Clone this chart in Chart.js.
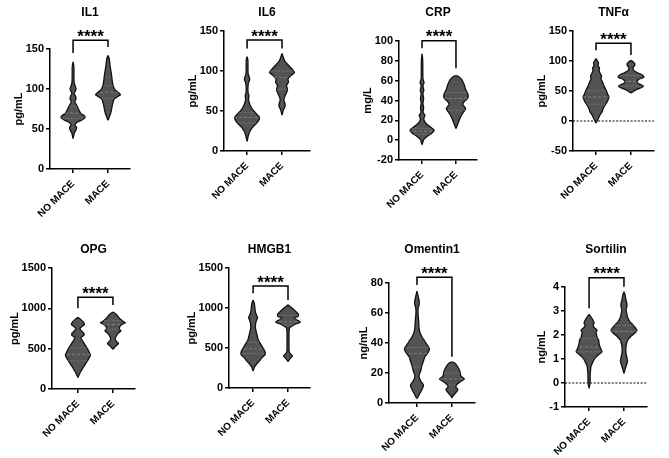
<!DOCTYPE html>
<html>
<head>
<meta charset="utf-8">
<script src="https://cdn.jsdelivr.net/npm/chart.js@4.4.0/dist/chart.umd.min.js"></script>
<style>
  html, body { margin: 0; padding: 0; background: #fff; }
  #wrap { position: relative; width: 669px; height: 458px; overflow: hidden; }
  #wrap canvas { position: absolute; }
</style>
</head>
<body>
<div id="wrap"></div>
<script>
// ---- data ----
const groups = ['NO MACE', 'MACE'];
const markers = ['IL1', 'IL6', 'CRP', 'TNFα', 'OPG', 'HMGB1', 'Omentin1', 'Sortilin'];
const units = ['pg/mL', 'pg/mL', 'mg/L', 'pg/mL', 'pg/mL', 'pg/mL', 'ng/mL', 'ng/mL'];
// [min, max, step]
const yRanges = [[0, 150, 50], [0, 150, 50], [-20, 100, 20], [-50, 150, 50],
                 [0, 1500, 500], [0, 1500, 500], [0, 80, 20], [-1, 4, 1]];

// violin outlines: [value, relative density], top to bottom
const il1No = [[134,0],[128,0.8],[118,0.9],[108,1.1],[104,2],[100,3],[97,2],[94,1.1],[91,2.5],[88,3],[84,1.8],[80,3.5],[76,5],[72,6.5],[69,8],[67,11],[64,12],[61,8.5],[58,3.5],[55,1.8],[52,3.5],[49,3],[45,1.2],[41,0.6],[38,0]];
const il1Mace = [[142,0],[138,1.2],[130,2],[122,3],[115,3.8],[108,4.5],[103,5.5],[99,7],[96,10],[93,12.5],[90,9],[87,6],[83,5],[79,4.2],[74,3.5],[69,2.5],[65,1.3],[61,0]];
const il6No = [[118,0],[114,0.8],[105,0.9],[96,1.1],[92,2.3],[89,2.6],[86,1.6],[80,0.9],[73,1],[69,2],[65,1.4],[60,2.3],[55,4],[51,6],[47,9],[42,12.5],[37,11],[31,6.5],[25,3],[19,1.2],[12,0]];
const il6Mace = [[122,0],[118,1],[112,3],[106,7.5],[101,11],[98,12.5],[95,9.5],[90,6],[86,6.5],[82,4.5],[77,5.5],[73,4.5],[69,3],[64,1.8],[59,3],[56,3],[51,1.2],[45,0]];
const crpNo = [[87,0],[82,0.6],[72,0.8],[62,0.9],[58,2],[55,0.9],[50,1.8],[47,0.9],[42,1.6],[37,0.9],[33,1.6],[28,1.1],[25,3],[22,1.8],[19,2.5],[16,5],[13,9],[10,12.5],[7,10],[4,5.5],[1,2],[-2,0.8],[-4.5,0]];
const crpMace = [[65,0],[64,3],[61,6],[56,8.5],[51,10],[46,12.5],[42,12],[39,8.5],[36,7],[32,10],[28,7.5],[23,4.5],[18,2.5],[15,1.3],[12,0]];
const tnfNo = [[104,0],[100,1.5],[96,2.5],[92,2],[88,3.5],[84,3],[80,4],[75,5.5],[70,5],[65,6.5],[60,7.5],[55,9],[50,10.5],[45,11.5],[40,13],[35,12],[30,10.5],[25,8.5],[20,7],[15,6],[10,4],[5,2.5],[1,1.3],[-3,0]];
const tnfMace = [[101,0],[98,2.5],[95,4],[92,3.5],[88,2],[84,3],[80,7],[77,11],[73,13],[69,7.5],[65,6],[62,8],[58,12.5],[54,8],[51,4],[47,0]];
const opgNo = [[888,0],[860,3],[830,5.5],[800,6.5],[775,4],[750,2],[720,3.5],[690,6],[665,6],[640,3],[610,4],[580,5.5],[540,7.5],[490,10],[450,11.5],[420,12.5],[380,11],[340,9],[300,7],[260,5],[220,3],[180,1.3],[145,0]];
const opgMace = [[955,0],[930,3],[900,5],[870,7],[840,10],[820,12.5],[800,9],[775,7],[750,6],[720,8],[690,5],[660,3.5],[620,2.2],[585,4],[565,5.5],[545,4],[520,1.8],[495,0]];
const hmgNo = [[1100,0],[1060,1.2],[1000,1.8],[950,2.3],[910,3.5],[880,4.5],[850,3.5],[810,2.6],[760,2.3],[710,3],[660,4],[610,5],[570,6.5],[530,8.5],[490,10.5],[450,12],[415,12],[380,9],[340,6.5],[300,3.5],[260,1.3],[215,0]];
const hmgMace = [[1040,0],[1000,4],[960,7.5],[920,10.5],[895,10],[875,6],[850,9],[825,12.5],[800,8],[775,4],[750,1.6],[700,1],[600,1],[500,1],[450,1.3],[420,3],[400,4.5],[380,3],[355,1.2],[330,0]];
const omeNo = [[74.5,0],[72,0.9],[69,2],[66,2.3],[63,1.1],[59,1.1],[55,1.7],[50,2.1],[47,3],[44,5],[41,8],[38,11],[36,12.5],[33.5,11],[31,8],[28,6.5],[25,5],[21,3.5],[18,2],[15,3.5],[12,6.5],[9,5],[6,2.5],[3,0]];
const omeMace = [[27.5,0],[26.5,3],[24,6],[21,8],[18,9],[16,12.5],[14,8],[12,4.5],[10.5,4],[9,6],[7,4],[5,1.3],[3.5,0]];
const sorNo = [[2.86,0],[2.75,2],[2.65,3.5],[2.5,5],[2.4,4],[2.3,5.5],[2.2,8],[2.1,7],[2.0,7.5],[1.9,8],[1.8,9.5],[1.65,10],[1.5,11],[1.4,12],[1.3,13],[1.2,10],[1.1,7.5],[1.0,5.5],[0.85,3.5],[0.7,2],[0.5,1.4],[0.3,1.1],[0.1,1.1],[-0.05,0.8],[-0.22,0]];
const sorMace = [[3.8,0],[3.67,1.2],[3.5,1.8],[3.3,3],[3.2,3],[3.05,2.1],[2.85,3],[2.7,4],[2.55,6],[2.42,9],[2.3,11.5],[2.18,13],[2.05,10],[1.95,7],[1.8,4],[1.6,2.3],[1.4,1.8],[1.2,2.2],[1.05,3],[0.9,3.5],[0.75,2.5],[0.6,1.3],[0.4,0]];

const profiles = [[il1No, il1Mace], [il6No, il6Mace], [crpNo, crpMace], [tnfNo, tnfMace],
                  [opgNo, opgMace], [hmgNo, hmgMace], [omeNo, omeMace], [sorNo, sorMace]];

// [lower quartile, median, upper quartile] for NO MACE / MACE
const quartiles = [
  [[63, 70, 78], [88, 96, 104]],
  [[35, 42, 48], [77, 92, 100]],
  [[6, 9, 12], [30, 42, 48]],
  [[28, 40, 50], [58, 66, 76]],
  [[350, 430, 510], [740, 800, 845]],
  [[430, 490, 570], [790, 830, 905]],
  [[24, 33, 37], [12, 16, 20]],
  [[1.3, 1.5, 1.85], [1.75, 2.15, 2.4]]
];

// significance bracket: [bar level, left leg end, right leg end]
const brackets = [[161, 145, 152.5], [138.75, 128, 128], [100.3, 92.7, 72.5], [129.5, 118, 110],
                  [1136, 1000, 1041], [1275, 1183, 1100], [83.8, 78.7, 30.9], [4.39, 3.11, 4.01]];
const signif = '****';
const zeroLine = [false, false, false, true, false, false, false, true];

// ---- layout (pixels) ----
const panels = [
  { left: 50,  top: 49,  right: 130, bottom: 169, xmin: 0.34, xmax: 2.63, row: 0 },
  { left: 224, top: 31,  right: 310, bottom: 151, xmin: 0.34, xmax: 2.80, row: 0 },
  { left: 399, top: 41,  right: 477, bottom: 160, xmin: 0.32, xmax: 2.62, row: 0 },
  { left: 573, top: 31,  right: 654, bottom: 151, xmin: 0.34, xmax: 2.66, row: 0 },
  { left: 52,  top: 268, right: 135, bottom: 389, xmin: 0.26, xmax: 2.63, row: 1 },
  { left: 229, top: 268, right: 310, bottom: 388, xmin: 0.31, xmax: 2.63, row: 1 },
  { left: 389, top: 283, right: 475, bottom: 403, xmin: 0.20, xmax: 2.66, row: 1 },
  { left: 565, top: 287, right: 647, bottom: 407, xmin: 0.31, xmax: 2.66, row: 1 }
];
const rowTop = [0, 230];
const titleY = [13, 20];
const CANVAS_H = 228;
const Y_AXIS_W = 50;
const X_AXIS_H = 50;
const RIGHT_PAD = 14;
const DENSITY_TO_X = 1 / 35;

const FONT = "'Liberation Sans', Arial, Helvetica, sans-serif";
const VIOLIN_FILL = '#535353';
const INNER_LINE = '#858585';

function violinPoints(profile, center) {
  const right = profile.map(([v, d]) => ({ x: center + d * DENSITY_TO_X, y: v }));
  const left = profile.slice(1, -1).reverse().map(([v, d]) => ({ x: center - d * DENSITY_TO_X, y: v }));
  return right.concat(left, [right[0]]);
}

function tracePath(ctx, chart, meta) {
  const line = meta.dataset;
  line.updateControlPoints(chart.chartArea, meta.iScale.axis);
  ctx.beginPath();
  line.path(ctx);
  ctx.closePath();
}

const violinPlugin = {
  id: 'violinPlugin',
  beforeDatasetDraw(chart, args) {
    const ds = chart.data.datasets[args.index];
    if (!ds.violin) return;
    const ctx = chart.ctx;
    ctx.save();
    tracePath(ctx, chart, args.meta);
    ctx.fillStyle = VIOLIN_FILL;
    ctx.fill();
    ctx.restore();
  },
  afterDatasetDraw(chart, args) {
    const ds = chart.data.datasets[args.index];
    if (!ds.violin) return;
    const ctx = chart.ctx;
    const ys = chart.scales.y;
    const area = chart.chartArea;
    ctx.save();
    tracePath(ctx, chart, args.meta);
    ctx.clip();
    ctx.strokeStyle = INNER_LINE;
    ctx.lineWidth = 0.9;
    ds.quart.forEach((q, i) => {
      ctx.setLineDash(i === 1 ? [3, 2] : [1.2, 1.4]);
      const py = ys.getPixelForValue(q);
      ctx.beginPath();
      ctx.moveTo(area.left, py);
      ctx.lineTo(area.right, py);
      ctx.stroke();
    });
    ctx.restore();
  },
  afterDraw(chart) {
    const o = chart.options.plugins.violinPlugin;
    const ctx = chart.ctx;
    const area = chart.chartArea;
    const xs = chart.scales.x;
    const ys = chart.scales.y;
    ctx.save();
    ctx.fillStyle = '#000';

    // title
    ctx.font = 'bold 12px ' + FONT;
    ctx.textAlign = 'center';
    ctx.textBaseline = 'middle';
    ctx.fillText(o.title, (area.left + area.right) / 2, o.titleY);

    // y axis title, placed left of the widest tick label
    ctx.font = 'bold 11px ' + FONT;
    const widest = Math.max(...ys.ticks.map(t => ctx.measureText(String(t.label)).width));
    ctx.translate(area.left - widest - 13, (area.top + area.bottom) / 2);
    ctx.rotate(-Math.PI / 2);
    ctx.fillText(o.unit, 0, 0);
    ctx.setTransform(1, 0, 0, 1, 0, 0);

    // significance bracket
    const [bar, legL, legR] = o.bracket;
    const x1 = xs.getPixelForValue(1);
    const x2 = xs.getPixelForValue(2);
    const yb = ys.getPixelForValue(bar);
    ctx.strokeStyle = '#000';
    ctx.lineWidth = 1.5;
    ctx.beginPath();
    ctx.moveTo(x1, ys.getPixelForValue(legL));
    ctx.lineTo(x1, yb);
    ctx.lineTo(x2, yb);
    ctx.lineTo(x2, ys.getPixelForValue(legR));
    ctx.stroke();
    ctx.font = 'bold 17px ' + FONT;
    ctx.textBaseline = 'alphabetic';
    ctx.fillText(signif, (x1 + x2) / 2, yb + 1.5);
    ctx.restore();
  }
};

const wrap = document.getElementById('wrap');

panels.forEach((p, i) => {
  const plotW = p.right - p.left;
  const canvas = document.createElement('canvas');
  const w = Y_AXIS_W + plotW + RIGHT_PAD;
  canvas.width = w;
  canvas.height = CANVAS_H;
  canvas.style.left = (p.left - Y_AXIS_W) + 'px';
  canvas.style.top = rowTop[p.row] + 'px';
  canvas.style.width = w + 'px';
  canvas.style.height = CANVAS_H + 'px';
  wrap.appendChild(canvas);

  const datasets = profiles[i].map((prof, g) => ({
    label: groups[g],
    data: violinPoints(prof, g + 1),
    violin: true,
    quart: quartiles[i][g],
    borderColor: '#111',
    borderWidth: 1.3,
    pointRadius: 0,
    fill: false,
    tension: 0.25
  }));
  if (zeroLine[i]) {
    datasets.push({
      label: 'zero',
      data: [{ x: p.xmin, y: 0 }, { x: p.xmax, y: 0 }],
      borderColor: '#000',
      borderWidth: 1.2,
      borderDash: [2, 1.6],
      pointRadius: 0,
      fill: false
    });
  }

  const [ymin, ymax, ystep] = yRanges[i];
  const padTop = p.top - rowTop[p.row];
  const padBottom = CANVAS_H - (p.bottom - rowTop[p.row]) - X_AXIS_H;
  const tickFont = { family: FONT, size: 11, weight: 'bold' };
  const axisGrid = { display: true, drawOnChartArea: false, drawTicks: true, tickLength: 4, color: '#000', lineWidth: 1.5 };
  const axisBorder = { display: true, color: '#000', width: 1.5 };

  new Chart(canvas, {
    type: 'line',
    data: { datasets },
    options: {
      responsive: false,
      animation: false,
      devicePixelRatio: 1,
      layout: { padding: { left: 0, top: padTop, right: RIGHT_PAD, bottom: padBottom } },
      plugins: {
        legend: { display: false },
        tooltip: { enabled: false },
        violinPlugin: {
          title: markers[i],
          titleY: titleY[p.row],
          unit: units[i],
          bracket: brackets[i]
        }
      },
      scales: {
        x: {
          type: 'linear',
          min: p.xmin,
          max: p.xmax,
          afterBuildTicks: s => { s.ticks = [{ value: 1 }, { value: 2 }]; },
          afterFit: s => { s.height = X_AXIS_H; },
          ticks: {
            callback: v => groups[Math.round(v) - 1],
            autoSkip: false,
            maxRotation: 45,
            minRotation: 45,
            padding: 5,
            color: '#000',
            font: { family: FONT, size: 10, weight: 'bold' }
          },
          grid: axisGrid,
          border: axisBorder
        },
        y: {
          type: 'linear',
          min: ymin,
          max: ymax,
          afterFit: s => { s.width = Y_AXIS_W; },
          ticks: { stepSize: ystep, padding: 2, color: '#000', font: tickFont, callback: v => String(v) },
          grid: axisGrid,
          border: axisBorder
        }
      }
    },
    plugins: [violinPlugin]
  });
});
</script>
</body>
</html>
